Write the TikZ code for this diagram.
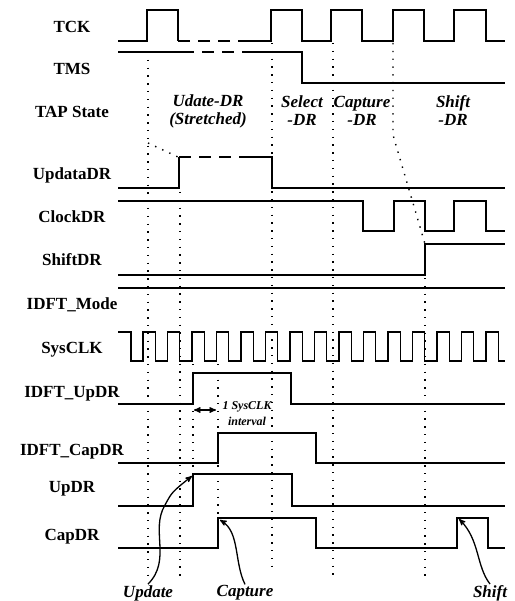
\documentclass[tikz,border=0pt]{standalone}
\usepackage{fontspec}
\setmainfont{Liberation Serif}
\usetikzlibrary{arrows}
\tikzset{
    signame/.style={
        font=\fontsize{17}{17}\selectfont\bfseries,
        anchor=base},
    tapstate/.style={
        font=\fontsize{17}{18}\selectfont\bfseries\itshape,
        align=center,
        inner sep=1pt},
    wave/.style={
        line width=1.2pt},
    stretch/.style={
        dash pattern=on 12pt off 8pt},
    guide/.style={
        line width=1.4pt,
        dash pattern=on 1.4pt off 6.4pt},
    note/.style={
        ->,>=stealth',
        line width=1.3pt}}

\begin{document}
\begin{tikzpicture}[x=1pt,y=-1pt]
    \useasboundingbox (0,0) rectangle (514,601);
    % signal names
    \node[signame] (tck) at (72,33) {TCK};
    \node[signame] (tms) at (72,75) {TMS};
    \node[signame] (tap) at (72,118) {TAP State};
    \node[signame] (updatadr) at (72,180) {UpdataDR};
    \node[signame] (clockdr) at (72,223) {ClockDR};
    \node[signame] (shiftdr) at (72,265) {ShiftDR};
    \node[signame] (mode) at (72,309) {IDFT\_Mode};
    \node[signame] (sysclk) at (72,353) {SysCLK};
    \node[signame] (iupdr) at (72,397) {IDFT\_UpDR};
    \node[signame] (icapdr) at (72,455) {IDFT\_CapDR};
    \node[signame] (updr) at (72,492) {UpDR};
    \node[signame] (capdr) at (72,540) {CapDR};
    % TAP states
    \node[tapstate] (sup) at (208,111) {Udate-DR\\(Stretched)};
    \node[tapstate] (ssel) at (302,111) {Select\\-DR};
    \node[tapstate] (scap) at (362,111) {Capture\\-DR};
    \node[tapstate] (sshf) at (453,111) {Shift\\-DR};
    % TCK
    \draw[wave] (118,41) -- (147,41) -- (147,10) -- (178,10) -- (178,41);
    \draw[wave,stretch] (178,41) -- (245,41);
    \draw[wave] (245,41) -- (271,41) -- (271,10) -- (302,10) -- (302,41)
        -- (331,41) -- (331,10) -- (362,10) -- (362,41) -- (393,41)
        -- (393,10) -- (424,10) -- (424,41) -- (454,41) -- (454,10)
        -- (486,10) -- (486,41) -- (505,41);
    % TMS
    \draw[wave] (118,52) -- (182,52);
    \draw[wave,stretch] (182,52) -- (245,52);
    \draw[wave] (245,52) -- (302,52) -- (302,83) -- (505,83);
    % UpdataDR
    \draw[wave] (118,188) -- (179,188) -- (179,157);
    \draw[wave,stretch] (179,157) -- (250,157);
    \draw[wave] (250,157) -- (272,157) -- (272,188) -- (505,188);
    % ClockDR
    \draw[wave] (118,201) -- (363,201) -- (363,231) -- (394,231) -- (394,201)
        -- (425,201) -- (425,231) -- (454,231) -- (454,201) -- (486,201)
        -- (486,231) -- (505,231);
    % ShiftDR
    \draw[wave] (118,275) -- (425,275) -- (425,244) -- (505,244);
    % IDFT_Mode
    \draw[wave] (118,288) -- (505,288);
    % SysCLK
    \draw[wave] (118,332) -- (131,332) -- (131,361) -- (143,361)
        foreach \k in {1,...,14} { -- ++(0,-29) -- ++(12.25,0) -- ++(0,29) -- ++(12.25,0) }
        -- ++(0,-29) -- ++(12.25,0) -- ++(0,29) -- (505,361);
    % IDFT_UpDR, IDFT_CapDR
    \draw[wave] (118,404) -- (193,404) -- (193,373) -- (291,373) -- (291,404) -- (505,404);
    \draw[wave] (118,463) -- (218,463) -- (218,433) -- (316,433) -- (316,463) -- (505,463);
    % UpDR, CapDR
    \draw[wave] (118,506) -- (193,506) -- (193,474) -- (292,474) -- (292,506) -- (505,506);
    \draw[wave] (118,548) -- (218,548) -- (218,518) -- (316,518) -- (316,548)
        -- (457,548) -- (457,518) -- (488,518) -- (488,548) -- (505,548);
    % dotted guides
    \draw[guide] (148,52) -- (148,578);
    \draw[guide] (148,143) -- (178,157);
    \draw[guide] (180,192) -- (180,577);
    \draw[guide] (193,364) -- (193,474);
    \draw[guide] (218,364) -- (218,518);
    \draw[guide] (272,43) -- (272,572);
    \draw[guide] (333,43) -- (333,580);
    \draw[guide] (393,43) -- (393,135) -- (425,244);
    \draw[guide] (425,278) -- (425,578);
    % one SysCLK interval
    \coordinate (ia) at (194,410);
    \coordinate (ib) at (216,410);
    \draw[note,<->] (ia) -- (ib);
    \node[font=\fontsize{12}{16}\selectfont\bfseries\itshape, align=center, inner sep=0pt]
        (ivl) at (247,414) {1 SysCLK\\interval};
    % events
    \node[tapstate] (lupd) at (148,593) {Update};
    \node[tapstate] (lcap) at (245,593) {Capture};
    \node[tapstate] (lshf) at (490,593) {Shift};
    \coordinate (updtip) at (192,476);
    \coordinate (captip) at (220,520);
    \coordinate (shftip) at (459,519);
    \draw[note] (lupd.north) .. controls (172,560) and (150,530) .. (165,505)
        .. controls (172,492) .. (updtip);
    \draw[note] (lcap.north) .. controls (234,562) and (240,532) .. (captip);
    \draw[note] (lshf.north) .. controls (476,566) and (480,540) .. (shftip);
\end{tikzpicture}
\end{document}
